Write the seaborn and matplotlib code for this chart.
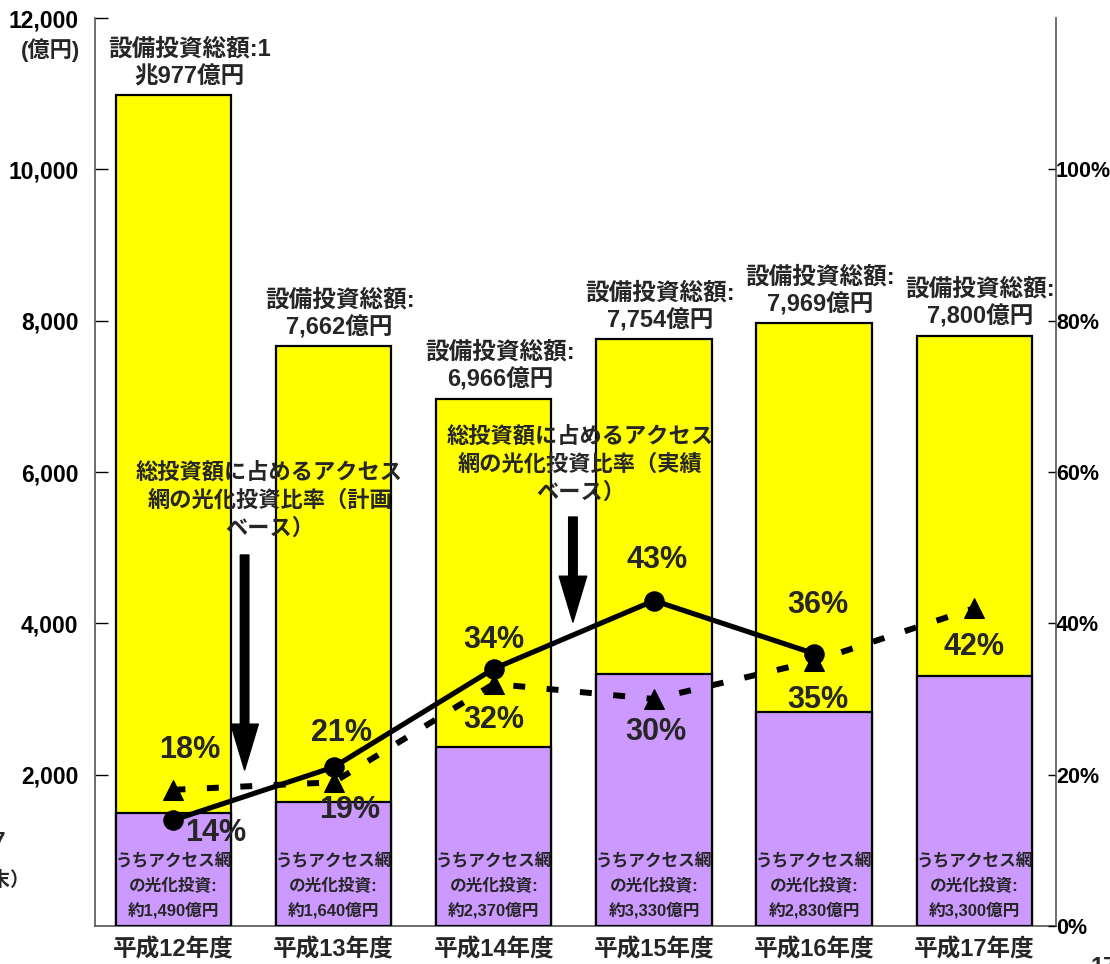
import numpy as np
import pandas as pd
import matplotlib
matplotlib.use("Agg")
import matplotlib.pyplot as plt
import seaborn as sns

# ---------------- data ----------------
categories = ["平成12年度", "平成13年度", "平成14年度", "平成15年度", "平成16年度", "平成17年度"]
total_invest = [10977, 7662, 6966, 7754, 7969, 7800]          # 億円
fiber_invest = [1490, 1640, 2370, 3330, 2830, 3300]           # 億円
total_labels = ["設備投資総額:1\n兆977億円", "設備投資総額:\n7,662億円", "設備投資総額:\n6,966億円",
                "設備投資総額:\n7,754億円", "設備投資総額:\n7,969億円", "設備投資総額:\n7,800億円"]
fiber_labels = ["うちアクセス網\nの光化投資:\n約1,490億円", "うちアクセス網\nの光化投資:\n約1,640億円",
                "うちアクセス網\nの光化投資:\n約2,370億円", "うちアクセス網\nの光化投資:\n約3,330億円",
                "うちアクセス網\nの光化投資:\n約2,830億円", "うちアクセス網\nの光化投資:\n約3,300億円"]
actual_ratio = [14, 21, 34, 43, 36]      # % 実績ベース
planned_ratio = [18, 19, 32, 30, 35, 42] # % 計画ベース
left_ticks = [2000, 4000, 6000, 8000, 10000, 12000]
right_ticks = [0, 20, 40, 60, 80, 100]

# ---------------- style ----------------
sns.set_style("white")
plt.rcParams["font.family"] = ["Liberation Sans", "Noto Sans CJK JP"]
plt.rcParams["font.weight"] = "bold"
plt.rcParams["axes.unicode_minus"] = False

W, H = 1110, 964
fig = plt.figure(figsize=(W / 100, H / 100), dpi=100)
ax = fig.add_axes([95 / W, 1 - 926 / H, (1056 - 95) / W, (926 - 18) / H])

df = pd.DataFrame({"cat": categories, "total": total_invest, "fiber": fiber_invest})
sns.barplot(data=df, x="cat", y="total", color="#FFFF00", saturation=1, edgecolor="black",
            linewidth=1.6, width=0.72, ax=ax, zorder=2)
sns.barplot(data=df, x="cat", y="fiber", color="#CC99FF", saturation=1, edgecolor="black",
            linewidth=1.6, width=0.72, ax=ax, zorder=3)

ax.set_xlim(-0.49, 5.51)
ax.set_ylim(0, 12000)
ax.set_yticks(left_ticks)
ax.set_yticklabels([f"{v:,}" for v in left_ticks])
ax.set_xlabel("")
ax.set_ylabel("")
ax.tick_params(axis="y", direction="in", length=9, width=1, pad=12, labelsize=16.5, colors="black")
ax.tick_params(axis="x", length=0, pad=9, labelsize=17)
for s in ["top", "right"]:
    ax.spines[s].set_visible(False)
for s in ["left", "bottom"]:
    ax.spines[s].set_color("#555555")
    ax.spines[s].set_linewidth(1.2)
for lab in ax.get_xticklabels() + ax.get_yticklabels():
    lab.set_fontweight("bold")

# top labels
for i, (tot, lab) in enumerate(zip(total_invest, total_labels)):
    dx = 16 if i == 0 else 6
    ax.annotate(lab, xy=(i, tot), xytext=(dx, 7), textcoords="offset pixels",
                ha="center", va="bottom", fontsize=17, fontweight="bold", linespacing=1.25)

# inside labels
for i, lab in enumerate(fiber_labels):
    ax.annotate(lab, xy=(i, 0), xytext=(0, 40), textcoords="offset pixels",
                ha="center", va="center", fontsize=12, fontweight="bold", linespacing=1.62,
                zorder=5)

# arrows
arrow_style = "simple,head_length=1.5,head_width=0.9,tail_width=0.28"
ax.annotate("", xy=(0.444, 2062), xytext=(0.444, 4903),
            arrowprops=dict(arrowstyle=arrow_style, color="black", mutation_scale=22,
                            shrinkA=0, shrinkB=0), zorder=6)
ax.annotate("", xy=(2.494, 4017), xytext=(2.494, 5405),
            arrowprops=dict(arrowstyle=arrow_style, color="black", mutation_scale=22,
                            shrinkA=0, shrinkB=0), zorder=6)
ax.text(0.6, 5616, "総投資額に占めるアクセス\n網の光化投資比率（計画\nベース）", ha="center", va="center",
        fontsize=16, fontweight="bold", linespacing=1.42, zorder=6)
ax.text(2.54, 6092, "総投資額に占めるアクセス\n網の光化投資比率（実績\nベース）", ha="center", va="center",
        fontsize=16, fontweight="bold", linespacing=1.42, zorder=6)

# ---------------- ratio lines (right axis) ----------------
ax2 = ax.twinx()
sns.lineplot(x=np.arange(len(planned_ratio)), y=planned_ratio, ax=ax2, color="black", lw=4.3,
             marker="^", markersize=15, markeredgecolor="black", linestyle=(0, (2, 3.6)))
sns.lineplot(x=np.arange(len(actual_ratio)), y=actual_ratio, ax=ax2, color="black", lw=3.7,
             marker="o", markersize=14, markeredgecolor="black")
ax2.set_ylim(0, 120)
ax2.set_yticks(right_ticks)
ax2.set_yticklabels([f"{v}%" for v in right_ticks])
ax2.tick_params(axis="y", direction="in", length=6, width=1, pad=0, labelsize=15.5, colors="black")
for lab in ax2.get_yticklabels():
    lab.set_fontweight("bold")
for s in ["top", "left", "bottom"]:
    ax2.spines[s].set_visible(False)
ax2.spines["right"].set_color("#555555")
ax2.spines["right"].set_linewidth(1.2)
ax2.set_xlim(-0.49, 5.51)

act_off = [(42, -13), (8, 34), (0, 29), (3, 41), (4, 49)]
plan_off = [(16, 40), (16, -28), (0, -36), (2, -33), (4, -39), (0, -39)]
for i, (v, o) in enumerate(zip(actual_ratio, act_off)):
    ax2.annotate(f"{v}%", xy=(i, v), xytext=o, textcoords="offset pixels", ha="center",
                 va="center", fontsize=22, fontweight="bold")
for i, (v, o) in enumerate(zip(planned_ratio, plan_off)):
    ax2.annotate(f"{v}%", xy=(i, v), xytext=o, textcoords="offset pixels", ha="center",
                 va="center", fontsize=22, fontweight="bold")

# extra texts
fig.text(80 / W, 1 - 50 / H, "(億円)", ha="right", va="center", fontsize=16, fontweight="bold")
fig.text(6 / W, 1 - 843 / H, "平成17", ha="right", va="center", fontsize=17, fontweight="bold")
fig.text(30 / W, 1 - 880 / H, "（年度末）", ha="right", va="center", fontsize=14, fontweight="bold")
fig.text(1090 / W, -4 / H, "17", ha="left", va="center", fontsize=17, fontweight="bold")

fig.savefig("out.png", dpi=100)
